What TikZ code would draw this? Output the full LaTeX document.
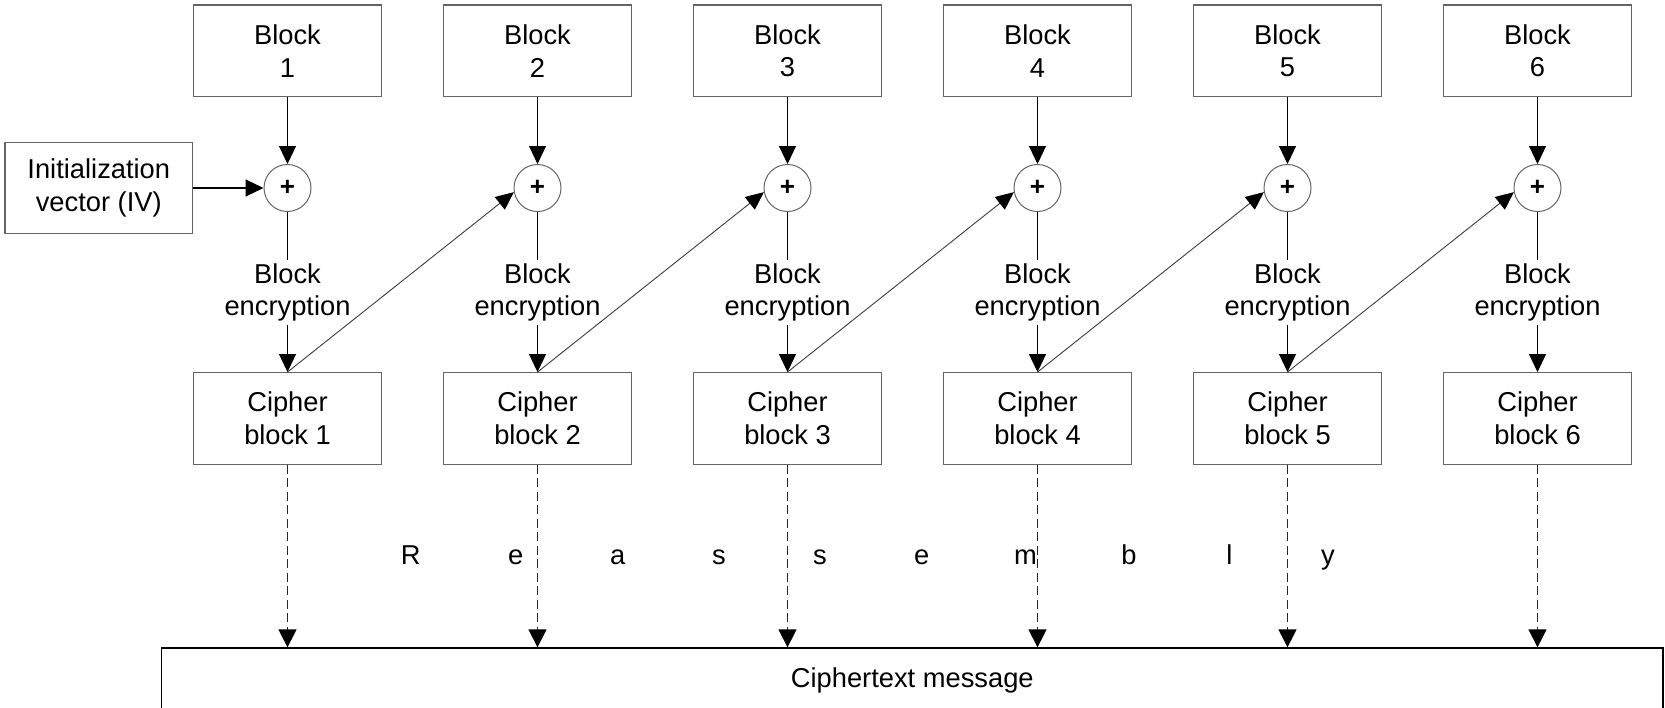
\documentclass[tikz,border=0pt]{standalone}
\usepackage{fontspec}
\setmainfont{Liberation Sans}
\usetikzlibrary{arrows.meta}
\definecolor{boxgray}{RGB}{100,100,100}
\definecolor{linkgray}{RGB}{60,60,60}
\begin{document}
\begin{tikzpicture}[x=1pt,y=-1pt,
  every node/.style={font=\fontsize{27.3}{32.7}\selectfont, text=black},
  blockbox/.style={draw=boxgray, line width=1.3pt, minimum width=188.6pt,
    minimum height=91.6pt, inner sep=0pt, align=center, fill=white},
  xorop/.style={circle, draw=boxgray, line width=1pt, minimum size=47pt,
    inner sep=0pt, font=\fontsize{26}{30}\selectfont\bfseries},
  enclabel/.style={fill=white, inner xsep=2.5pt,
    inner ysep=0pt, minimum height=65pt, align=center},
  msgbox/.style={draw=black, line width=1.3pt, inner sep=0pt},
  flow/.style={line width=1.1pt, draw=black},
  tip/.style={-{Triangle[length=18pt,width=17pt,color=black]}},
  feedback/.style={line width=0.9pt, draw=linkgray,
    -{Triangle[length=18pt,width=16pt,color=black]}},
  assemble/.style={line width=1.4pt, draw=black!85, dash pattern=on 9pt off 4.5pt,
    -{Triangle[length=18pt,width=18pt,color=black]}},
  letter/.style={anchor=base}
]
\useasboundingbox (0,0) rectangle (1665,707);

% initialization vector
\node[blockbox, minimum width=187.7pt] (iv) at (98.8,188) {Initialization\\vector (IV)};

% one column per plaintext block
\foreach \i in {1,...,6} {
  \pgfmathsetmacro\cx{287.5+250*(\i-1)}
  \node[blockbox] (b\i) at (\cx,50.8) {Block\\\i};
  \node[xorop] (x\i) at (\cx,188) {+};
  \node[enclabel] (e\i) at (\cx,292.5) {Block\\encryption};
  \node[blockbox] (c\i) at (\cx,418.5) {Cipher\\block \i};
}

% assembled ciphertext
\node[msgbox, minimum width=1501.3pt, minimum height=64pt] (msg) at (912.3,680) {Ciphertext message};

% per-column flow
\draw[flow, tip] (iv) -- (x1);
\foreach \i in {1,...,6} {
  \draw[flow, tip] (b\i) -- (x\i);
  \draw[flow] (x\i) -- (e\i);
  \draw[flow, tip] (e\i) -- (c\i);
  \coordinate (d\i) at (c\i |- msg.north);
  \draw[assemble] (c\i) -- (d\i);
}

% chaining: each cipher block feeds the next XOR
\foreach \i/\j in {1/2,2/3,3/4,4/5,5/6} {
  \draw[feedback] (c\i.north) -- (x\j.190);
}

% spaced-out caption
\foreach \ch/\lx [count=\k] in {R/410.7, e/515.7, a/617.8, s/719, s/820,
    e/921.7, m/1025.5, b/1129, l/1229.5, y/1328} {
  \node[letter] (ltr\k) at (\lx,564) {\ch};
}
\end{tikzpicture}
\end{document}
